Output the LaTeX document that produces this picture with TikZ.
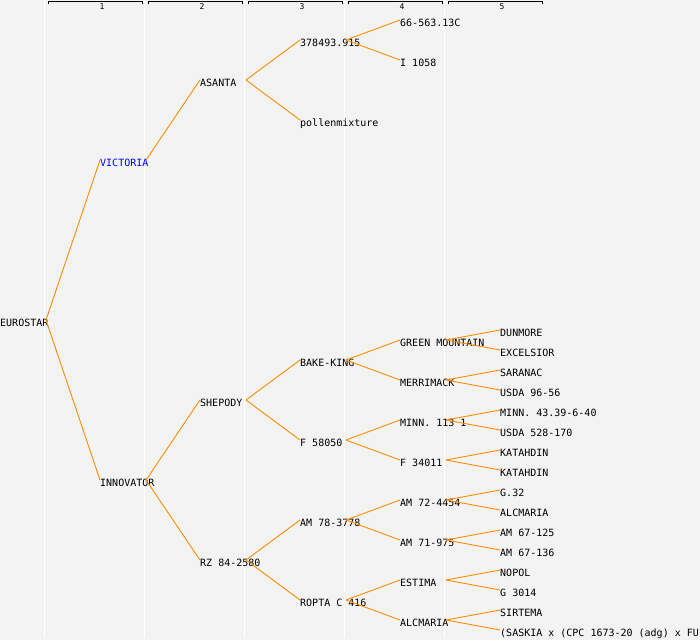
\documentclass[tikz,border=0pt]{standalone}
\usepackage{fontspec}
\usepackage{tikz}
\newfontfamily\lbfont{DejaVu Sans Mono}
\definecolor{bgcol}{RGB}{243,243,243}
\definecolor{edgeor}{RGB}{255,140,0}
\definecolor{vicblue}{RGB}{0,0,255}

\begin{document}
\begin{tikzpicture}[x=1pt, y=-1pt,
    lbl/.style={anchor=north west, inner sep=0pt, text height=6pt, text depth=2pt, font=\lbfont\fontsize{10}{12}\selectfont},
    hdr/.style={inner sep=0pt, font=\lbfont\fontsize{8}{9}\selectfont},
    ln/.style={draw=edgeor, line width=0.9pt},
    sep/.style={draw=white, line width=1pt}]
    \fill[bgcol] (0,0) rectangle (700,640);
    \useasboundingbox (0,0) rectangle (700,640);
    \clip (0,0) rectangle (700,640);
    \draw [sep] (44,0) -- (44,638);
    \draw [sep] (144,0) -- (144,638);
    \draw [sep] (244,0) -- (244,638);
    \draw [sep] (344,0) -- (344,638);
    \draw [sep] (444,0) -- (444,638);
    \draw [line width=0.9pt] (48,4) -- (48,1) -- (142,1) -- (142,4);
    \draw [line width=0.9pt] (148,4) -- (148,1) -- (242,1) -- (242,4);
    \draw [line width=0.9pt] (248,4) -- (248,1) -- (342,1) -- (342,4);
    \draw [line width=0.9pt] (348,4) -- (348,1) -- (442,1) -- (442,4);
    \draw [line width=0.9pt] (448,4) -- (448,1) -- (542,1) -- (542,4);
    \node[hdr] (h1) at (102,6.5) {1};
    \node[hdr] (h2) at (202,6.5) {2};
    \node[hdr] (h3) at (302,6.5) {3};
    \node[hdr] (h4) at (402,6.5) {4};
    \node[hdr] (h5) at (502,6.5) {5};
    \node[lbl] (r) at (0, 320) {EUROSTAR};
    \node[lbl, text=vicblue] (v) at (100, 160) {VICTORIA};
    \node[lbl] (i) at (100, 480) {INNOVATOR};
    \node[lbl] (as) at (200, 80) {ASANTA};
    \node[lbl] (sh) at (200, 400) {SHEPODY};
    \node[lbl] (rz) at (200, 560) {RZ 84-2580};
    \node[lbl] (n378) at (300, 40) {378493.915};
    \node[lbl] (pm) at (300, 120) {pollenmixture};
    \node[lbl] (bk) at (300, 360) {BAKE-KING};
    \node[lbl] (f58) at (300, 440) {F 58050};
    \node[lbl] (am78) at (300, 520) {AM 78-3778};
    \node[lbl] (ro) at (300, 600) {ROPTA C 416};
    \node[lbl] (n66) at (400, 20) {66-563.13C};
    \node[lbl] (i1058) at (400, 60) {I 1058};
    \node[lbl] (gm) at (400, 340) {GREEN MOUNTAIN};
    \node[lbl] (me) at (400, 380) {MERRIMACK};
    \node[lbl] (mi) at (400, 420) {MINN. 113 1};
    \node[lbl] (f34) at (400, 460) {F 34011};
    \node[lbl] (am72) at (400, 500) {AM 72-4454};
    \node[lbl] (am71) at (400, 540) {AM 71-975};
    \node[lbl] (es) at (400, 580) {ESTIMA};
    \node[lbl] (al) at (400, 620) {ALCMARIA};
    \node[lbl] (du) at (500, 330) {DUNMORE};
    \node[lbl] (ex) at (500, 350) {EXCELSIOR};
    \node[lbl] (sa) at (500, 370) {SARANAC};
    \node[lbl] (us96) at (500, 390) {USDA 96-56};
    \node[lbl] (mn43) at (500, 410) {MINN. 43.39-6-40};
    \node[lbl] (us528) at (500, 430) {USDA 528-170};
    \node[lbl] (ka1) at (500, 450) {KATAHDIN};
    \node[lbl] (ka2) at (500, 470) {KATAHDIN};
    \node[lbl] (g32) at (500, 490) {G.32};
    \node[lbl] (al2) at (500, 510) {ALCMARIA};
    \node[lbl] (am125) at (500, 530) {AM 67-125};
    \node[lbl] (am136) at (500, 550) {AM 67-136};
    \node[lbl] (no) at (500, 570) {NOPOL};
    \node[lbl] (g30) at (500, 590) {G 3014};
    \node[lbl] (si) at (500, 610) {SIRTEMA};
    \node[lbl] (sk) at (500, 630) {(SASKIA x (CPC 1673-20 (adg) x FU};
    \draw [ln] ([xshift=46pt]r.north west) to (v.north west);
    \draw [ln] ([xshift=46pt]r.north west) to (i.north west);
    \draw [ln] ([xshift=46pt]v.north west) to (as.north west);
    \draw [ln] ([xshift=46pt]i.north west) to (sh.north west);
    \draw [ln] ([xshift=46pt]i.north west) to (rz.north west);
    \draw [ln] ([xshift=46pt]as.north west) to (n378.north west);
    \draw [ln] ([xshift=46pt]as.north west) to (pm.north west);
    \draw [ln] ([xshift=46pt]sh.north west) to (bk.north west);
    \draw [ln] ([xshift=46pt]sh.north west) to (f58.north west);
    \draw [ln] ([xshift=46pt]rz.north west) to (am78.north west);
    \draw [ln] ([xshift=46pt]rz.north west) to (ro.north west);
    \draw [ln] ([xshift=46pt]n378.north west) to (n66.north west);
    \draw [ln] ([xshift=46pt]n378.north west) to (i1058.north west);
    \draw [ln] ([xshift=46pt]bk.north west) to (gm.north west);
    \draw [ln] ([xshift=46pt]bk.north west) to (me.north west);
    \draw [ln] ([xshift=46pt]f58.north west) to (mi.north west);
    \draw [ln] ([xshift=46pt]f58.north west) to (f34.north west);
    \draw [ln] ([xshift=46pt]am78.north west) to (am72.north west);
    \draw [ln] ([xshift=46pt]am78.north west) to (am71.north west);
    \draw [ln] ([xshift=46pt]ro.north west) to (es.north west);
    \draw [ln] ([xshift=46pt]ro.north west) to (al.north west);
    \draw [ln] ([xshift=46pt]gm.north west) to (du.north west);
    \draw [ln] ([xshift=46pt]gm.north west) to (ex.north west);
    \draw [ln] ([xshift=46pt]me.north west) to (sa.north west);
    \draw [ln] ([xshift=46pt]me.north west) to (us96.north west);
    \draw [ln] ([xshift=46pt]mi.north west) to (mn43.north west);
    \draw [ln] ([xshift=46pt]mi.north west) to (us528.north west);
    \draw [ln] ([xshift=46pt]f34.north west) to (ka1.north west);
    \draw [ln] ([xshift=46pt]f34.north west) to (ka2.north west);
    \draw [ln] ([xshift=46pt]am72.north west) to (g32.north west);
    \draw [ln] ([xshift=46pt]am72.north west) to (al2.north west);
    \draw [ln] ([xshift=46pt]am71.north west) to (am125.north west);
    \draw [ln] ([xshift=46pt]am71.north west) to (am136.north west);
    \draw [ln] ([xshift=46pt]es.north west) to (no.north west);
    \draw [ln] ([xshift=46pt]es.north west) to (g30.north west);
    \draw [ln] ([xshift=46pt]al.north west) to (si.north west);
    \draw [ln] ([xshift=46pt]al.north west) to (sk.north west);
  \end{tikzpicture}
\end{document}
